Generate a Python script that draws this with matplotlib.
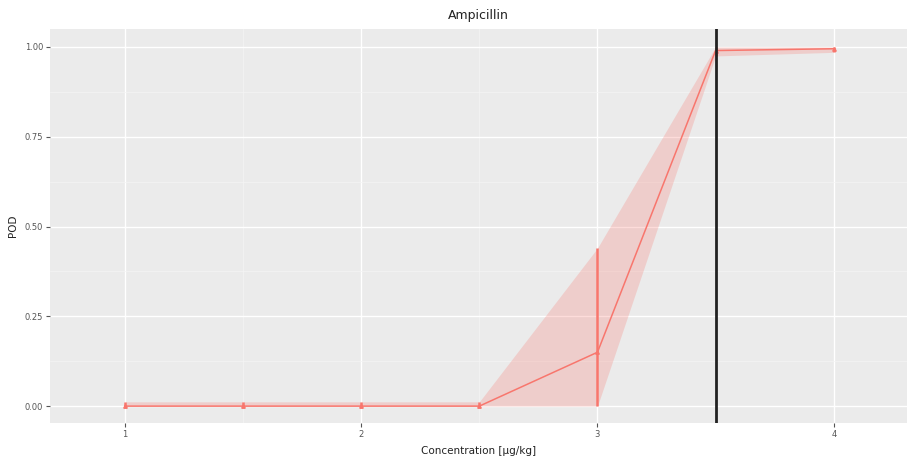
import matplotlib.pyplot as plt
from matplotlib.ticker import MultipleLocator

conc = [1, 1.5, 2, 2.5, 3, 3.5, 4]
pod = [0.0, 0.0, 0.0, 0.0, 0.15, 0.99, 0.995]
lower = [0.0, 0.0, 0.0, 0.0, 0.0, 0.975, 0.985]
upper = [0.012, 0.012, 0.012, 0.012, 0.44, 1.0, 1.0]
cutoff = 3.5

red = "#F8766D"

fig = plt.figure(figsize=(9.13, 4.72), dpi=100)
ax = fig.add_axes([50/913, 49/472, 857/913, 394/472])
ax.set_facecolor("#EBEBEB")
for s in ax.spines.values():
    s.set_visible(False)

# confidence band, curve, error bars
ax.fill_between(conc, lower, upper, color=red, alpha=0.25, linewidth=0, zorder=2)
ax.plot(conc, pod, color=red, linewidth=1.1, zorder=3)
yerr = [[p - l for p, l in zip(pod, lower)], [u - p for p, u in zip(pod, upper)]]
ax.errorbar(conc, pod, yerr=yerr, fmt="none", ecolor=red, elinewidth=1.8, capsize=0, zorder=3)
ax.plot(conc, pod, "^", color=red, markersize=2.5, zorder=4)
ax.axvline(cutoff, color="#222222", linewidth=2, zorder=5)

ax.set_xlim(0.683, 4.31)
ax.set_ylim(-0.047, 1.050)
ax.xaxis.set_major_locator(MultipleLocator(1))
ax.xaxis.set_minor_locator(MultipleLocator(0.5))
ax.yaxis.set_major_locator(MultipleLocator(0.25))
ax.yaxis.set_minor_locator(MultipleLocator(0.125))
ax.yaxis.set_major_formatter(plt.FuncFormatter(lambda v, p: f"{v:.2f}"))
ax.grid(which="major", color="white", linewidth=1.0, zorder=0)
ax.grid(which="minor", color="#F4F4F4", linewidth=0.5, zorder=0)
ax.set_axisbelow(True)
ax.tick_params(which="major", length=3, width=0.8, color="#555555", labelsize=6, labelcolor="#555555", pad=2)
ax.tick_params(which="minor", length=0)

ax.set_title("Ampicillin", fontsize=9, color="#222222", pad=7)
ax.set_xlabel("Concentration [µg/kg]", fontsize=7.5, color="#222222", labelpad=5)
ax.set_ylabel("POD", fontsize=7.5, color="#222222", labelpad=5)

fig.savefig("out.png", dpi=100)
